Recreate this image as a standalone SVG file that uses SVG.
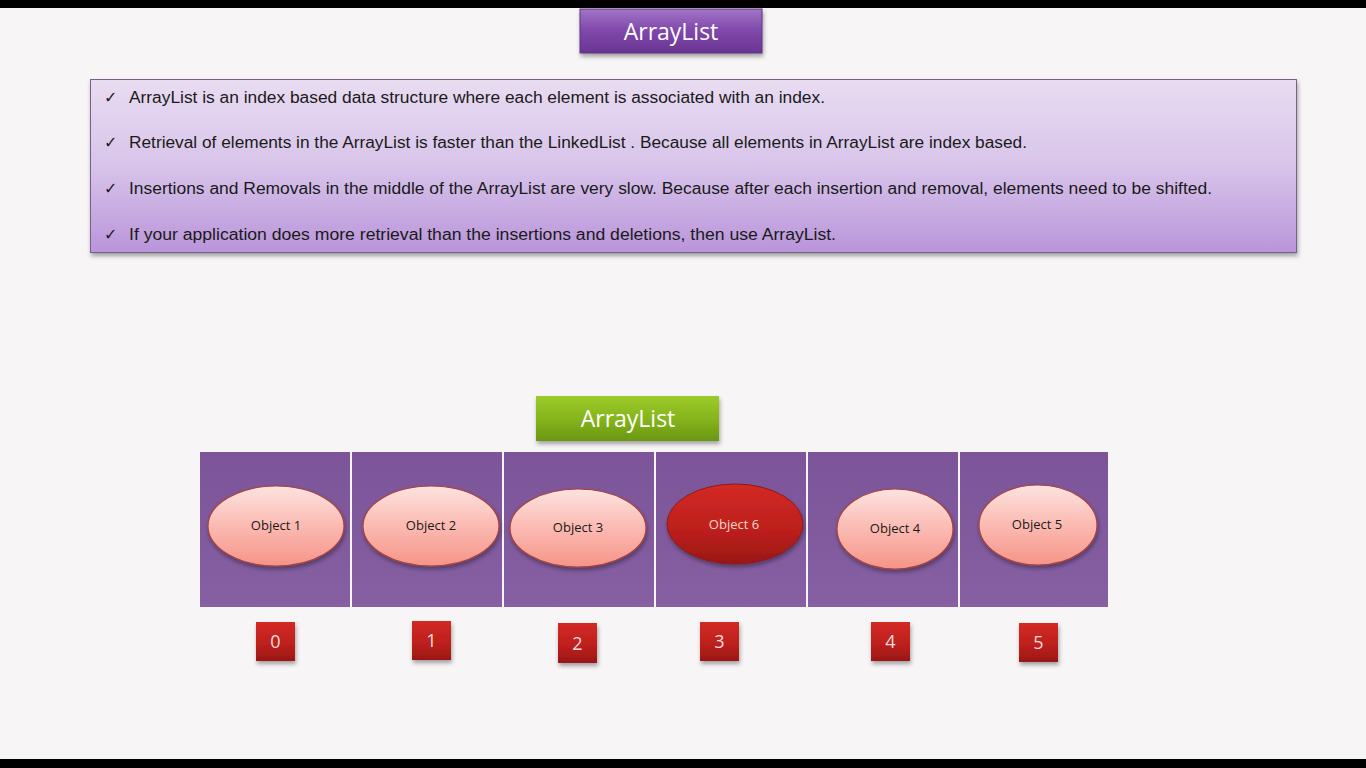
<svg xmlns="http://www.w3.org/2000/svg" width="1366" height="768" viewBox="0 0 1366 768">
<defs>
<linearGradient id="gTitle" x1="0" y1="0" x2="0" y2="1">
<stop offset="0" stop-color="#a175c6"/><stop offset="0.5" stop-color="#7f47aa"/><stop offset="1" stop-color="#693592"/>
</linearGradient>
<linearGradient id="gInfo" x1="0" y1="0" x2="0" y2="1">
<stop offset="0" stop-color="#e8dcf1"/><stop offset="0.5" stop-color="#d8c4ea"/><stop offset="1" stop-color="#b995da"/>
</linearGradient>
<linearGradient id="gGreen" x1="0" y1="0" x2="0" y2="1">
<stop offset="0" stop-color="#9ccb2a"/><stop offset="0.5" stop-color="#86b51c"/><stop offset="1" stop-color="#6a9714"/>
</linearGradient>
<linearGradient id="gPink" x1="0" y1="0" x2="0" y2="1">
<stop offset="0" stop-color="#fde3e0"/><stop offset="0.5" stop-color="#fbbab2"/><stop offset="1" stop-color="#f59488"/>
</linearGradient>
<linearGradient id="gRed" x1="0" y1="0" x2="0" y2="1">
<stop offset="0" stop-color="#d32a25"/><stop offset="0.6" stop-color="#bb1f1c"/><stop offset="1" stop-color="#9a1715"/>
</linearGradient>
<linearGradient id="gCell" x1="0" y1="0" x2="0" y2="1">
<stop offset="0" stop-color="#7c5499"/><stop offset="1" stop-color="#8660a3"/>
</linearGradient>
<filter id="sh" x="-10%" y="-10%" width="130%" height="140%">
<feDropShadow dx="1" dy="3" stdDeviation="2" flood-color="#000" flood-opacity="0.35"/>
</filter>
</defs>
<style>
.t{font-family:"Open Sans","Liberation Sans",sans-serif;}
.bul{font-family:"Liberation Sans",sans-serif;font-size:16px;fill:#1a1a1a;}
.chk{font-family:"DejaVu Sans",sans-serif;font-size:16px;fill:#1a1a1a;}
.obj{font-family:"Open Sans","Liberation Sans",sans-serif;font-size:13px;fill:#1a1a1a;text-anchor:middle;}
.idx{font-family:"Open Sans","Liberation Sans",sans-serif;font-size:18px;fill:#f6dede;text-anchor:middle;}
.cell{fill:url(#gCell);}
.ell{fill:url(#gPink);stroke:#a8423c;stroke-width:1.2;filter:url(#sh);}
.sq{fill:url(#gRed);filter:url(#sh);}
</style>
<rect width="1366" height="768" fill="#f7f5f5"/>
<rect x="0" y="0" width="1366" height="8" fill="#000"/>
<rect x="0" y="759" width="1366" height="9" fill="#000"/>

<g id="title">
<rect x="580" y="9" width="182" height="44" fill="url(#gTitle)" stroke="#5e3580" stroke-width="1" filter="url(#sh)"/>
<text class="t" x="671" y="40" font-size="23" fill="#fff" text-anchor="middle">ArrayList</text>
</g>

<g id="info">
<rect x="90.5" y="79.5" width="1206" height="173" fill="url(#gInfo)" stroke="#7a5e8c" stroke-width="1" filter="url(#sh)"/>
<g class="chk">
<text x="104" y="103">✓</text>
<text x="104" y="148">✓</text>
<text x="104" y="194">✓</text>
<text x="104" y="240">✓</text>
</g>
<g class="bul">
<text x="129" y="103" textLength="696" lengthAdjust="spacingAndGlyphs">ArrayList is an index based data structure where each element is associated with an index.</text>
<text x="129" y="148" textLength="898" lengthAdjust="spacingAndGlyphs">Retrieval of elements in the ArrayList is faster than the LinkedList . Because all elements in ArrayList are index based.</text>
<text x="129" y="194" textLength="1083" lengthAdjust="spacingAndGlyphs">Insertions and Removals in the middle of the ArrayList are very slow. Because after each insertion and removal, elements need to be shifted.</text>
<text x="129" y="240" textLength="707" lengthAdjust="spacingAndGlyphs">If your application does more retrieval than the insertions and deletions, then use ArrayList.</text>
</g>
</g>

<g id="arraylist-label">
<rect x="536" y="396" width="183" height="45" fill="url(#gGreen)" filter="url(#sh)"/>
<text class="t" x="628" y="427" font-size="23" fill="#fff" text-anchor="middle">ArrayList</text>
</g>

<g id="cells">
<rect class="cell" x="200" y="452" width="150" height="155"/>
<rect class="cell" x="352" y="452" width="150" height="155"/>
<rect class="cell" x="504" y="452" width="150" height="155"/>
<rect class="cell" x="656" y="452" width="150" height="155"/>
<rect class="cell" x="808" y="452" width="150" height="155"/>
<rect class="cell" x="960" y="452" width="148" height="155"/>
</g>

<g id="obj1"><ellipse class="ell" cx="276" cy="526" rx="68" ry="40"/><text class="obj" x="276" y="530">Object 1</text></g>
<g id="obj2"><ellipse class="ell" cx="431" cy="526" rx="68" ry="40"/><text class="obj" x="431" y="530">Object 2</text></g>
<g id="obj3"><ellipse class="ell" cx="578" cy="528" rx="68" ry="39"/><text class="obj" x="578" y="532">Object 3</text></g>
<g id="obj6"><ellipse cx="735" cy="524" rx="68" ry="40" fill="url(#gRed)" stroke="#8e1a16" stroke-width="1" filter="url(#sh)"/><text class="obj" x="734" y="529" style="fill:#f6d6d2">Object 6</text></g>
<g id="obj4"><ellipse class="ell" cx="895" cy="529" rx="58" ry="40"/><text class="obj" x="895" y="533">Object 4</text></g>
<g id="obj5"><ellipse class="ell" cx="1038" cy="525" rx="59" ry="40"/><text class="obj" x="1037" y="529">Object 5</text></g>

<g id="idx0"><rect class="sq" x="256" y="622" width="39" height="39"/><text class="idx" x="275.5" y="648">0</text></g>
<g id="idx1"><rect class="sq" x="412" y="621" width="39" height="39"/><text class="idx" x="431.5" y="647">1</text></g>
<g id="idx2"><rect class="sq" x="558" y="623" width="39" height="40"/><text class="idx" x="577.5" y="650">2</text></g>
<g id="idx3"><rect class="sq" x="700" y="622" width="39" height="39"/><text class="idx" x="719.5" y="648">3</text></g>
<g id="idx4"><rect class="sq" x="871" y="622" width="39" height="39"/><text class="idx" x="890.5" y="648">4</text></g>
<g id="idx5"><rect class="sq" x="1019" y="623" width="39" height="39"/><text class="idx" x="1038.5" y="649">5</text></g>
</svg>
